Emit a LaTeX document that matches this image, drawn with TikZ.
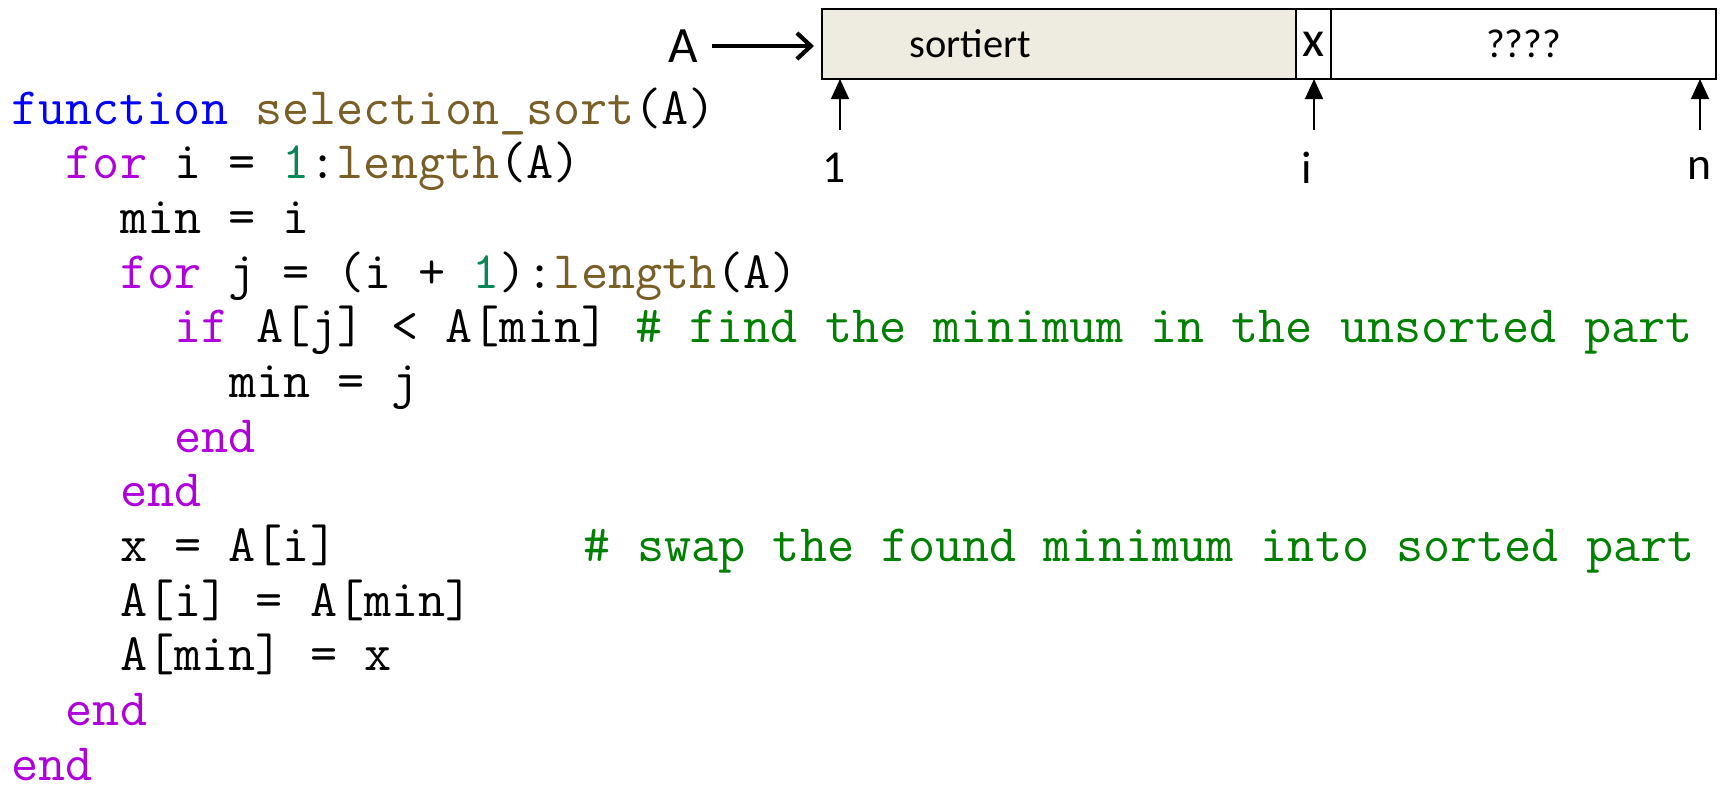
\documentclass[tikz,border=0pt]{standalone}
\usepackage{fontspec}
\usetikzlibrary{arrows.meta,positioning,calc}
\newfontfamily\calfont{Carlito}
\definecolor{kwcol}{HTML}{AF00DB}
\definecolor{fkwcol}{HTML}{0000FF}
\definecolor{fncol}{HTML}{795E26}
\definecolor{numcol}{HTML}{098658}
\definecolor{cmtcol}{HTML}{008000}
\definecolor{sortfill}{HTML}{EEECE1}
\newcommand{\kw}[1]{\textcolor{kwcol}{#1}}
\newcommand{\fn}[1]{\textcolor{fncol}{#1}}
\newcommand{\num}[1]{\textcolor{numcol}{#1}}
\newcommand{\cmt}[1]{\textcolor{cmtcol}{#1}}
\def\cw{0.5446}
\def\lh{1.0934}

\begin{document}
\begin{tikzpicture}[
cell/.style={draw, line width=1pt, minimum height=1.4cm, inner sep=0pt, outer sep=0pt, font=\calfont\fontsize{23}{26}\selectfont},
codeline/.style={anchor=base west, inner sep=0pt, font=\ttfamily\fontsize{29.95}{32}\selectfont},
idx/.style={inner sep=0pt, font=\calfont\fontsize{26}{30}\selectfont},
ptr/.style={-{Triangle[length=4mm,width=3.6mm]}, line width=0.9pt},
bigarrow/.style={-{Straight Barb[length=2.8mm,width=5.2mm]}, line width=2.4pt}
]
\useasboundingbox (0,0) rectangle (34.42,-15.7);

% the array
\node[cell, fill=sortfill, anchor=north west, minimum width=9.48cm] (sorted) at (16.44,-0.18) {};
\node[cell, minimum width=0.7cm, right=0pt of sorted, font=\calfont\fontsize{29}{30}\selectfont] (xcell) {x};
\node[cell, minimum width=7.7cm, right=0pt of xcell] (rest) {????};
\node[cell, draw=none, fill=none] (sortlbl) at ([xshift=2.96cm]sorted.west) {sortiert};

\node[inner sep=0pt, font=\calfont\fontsize{29}{30}\selectfont] (Alab) at (13.66,-0.92) {A};
\draw[bigarrow, shorten <=0.28cm, shorten >=0.16cm] (Alab.east) -- (Alab.east -| sorted.west);

% index pointers
\coordinate (c1) at (16.8,-2.6);
\coordinate (ci) at (26.28,-2.6);
\coordinate (cn) at (34.0,-2.6);
\node[idx] (lab1) at (16.68,-3.36) {1};
\node[idx] (labi) at (26.14,-3.36) {i};
\node[idx] (labn) at (33.98,-3.36) {n};
\draw[ptr] (c1) -- (c1 |- sorted.south);
\draw[ptr] (ci) -- (ci |- sorted.south);
\draw[ptr] (cn) -- (cn |- sorted.south);

% the code
\node[codeline] (l1) at (0.22,-2.48) {\textcolor{fkwcol}{function} \fn{selection\_sort}(A)};
\node[codeline] (l2) at (0.22+2*\cw,-2.48-1*\lh) {\kw{for} i = \num{1}:\fn{length}(A)};
\node[codeline] (l3) at (0.22+4*\cw,-2.48-2*\lh) {min = i};
\node[codeline] (l4) at (0.22+4*\cw,-2.48-3*\lh) {\kw{for} j = (i + \num{1}):\fn{length}(A)};
\node[codeline] (l5) at (0.22+6*\cw,-2.48-4*\lh) {\kw{if} A[j] < A[min] \cmt{\# find the minimum in the unsorted part}};
\node[codeline] (l6) at (0.22+8*\cw,-2.48-5*\lh) {min = j};
\node[codeline] (l7) at (0.22+6*\cw,-2.48-6*\lh) {\kw{end}};
\node[codeline] (l8) at (0.22+4*\cw,-2.48-7*\lh) {\kw{end}};
\node[codeline] (l9) at (0.22+4*\cw,-2.48-8*\lh) {x = A[i]};
\node[codeline] (swapcmt) at (0.22+21*\cw,-2.48-8*\lh) {\cmt{\# swap the found minimum into sorted part}};
\node[codeline] (l10) at (0.22+4*\cw,-2.48-9*\lh) {A[i] = A[min]};
\node[codeline] (l11) at (0.22+4*\cw,-2.48-10*\lh) {A[min] = x};
\node[codeline] (l12) at (0.22+2*\cw,-2.48-11*\lh) {\kw{end}};
\node[codeline] (l13) at (0.22,-2.48-12*\lh) {\kw{end}};
\end{tikzpicture}
\end{document}
